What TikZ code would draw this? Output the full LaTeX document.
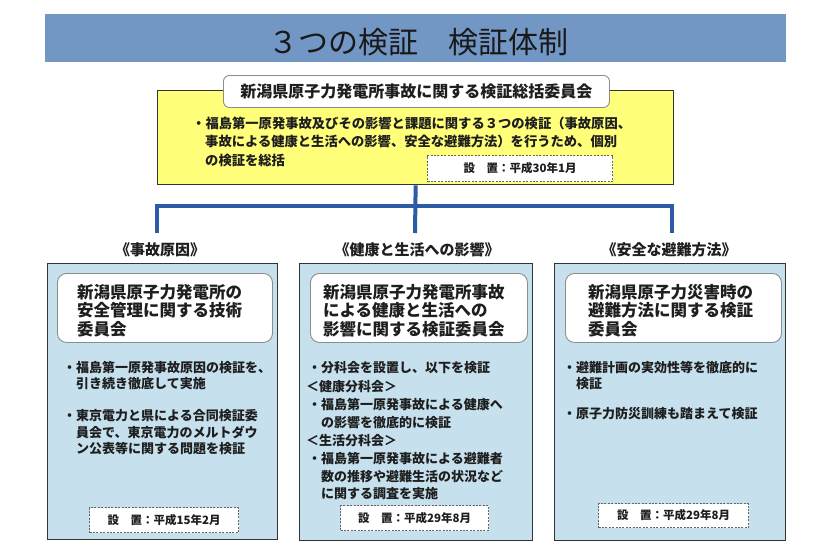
\documentclass[tikz,border=0pt]{standalone}
\usepackage{fontspec}
\newfontfamily\jp{Noto Sans CJK JP}
\definecolor{titlebar}{RGB}{114,151,196}
\definecolor{yel}{RGB}{255,255,122}
\definecolor{lblue}{RGB}{198,225,237}
\definecolor{conncol}{RGB}{44,92,166}
\definecolor{txtcol}{RGB}{30,30,30}
\tikzset{
  frame/.style={draw=black!80, line width=1.3pt, anchor=north west, inner sep=0pt},
  wbox/.style={draw=black!45, line width=0.9pt, fill=white, rounded corners=9pt, anchor=north west, inner sep=0pt},
  dbox/.style={draw=black!60, line width=1.1pt, dash pattern=on 2pt off 1.4pt, fill=white, anchor=north west, inner sep=0pt, text=txtcol, font=\jp\bfseries\fontsize{11.5pt}{13pt}\selectfont},
  conn/.style={draw=conncol, line width=4pt},
  ln/.style={anchor=base west, inner sep=0pt, text=txtcol, font=\jp\bfseries\fontsize{13pt}{15pt}\selectfont},
  yln/.style={ln, font=\jp\bfseries\fontsize{13.3pt}{15pt}\selectfont},
  head/.style={anchor=base west, inner sep=0pt, text=txtcol, font=\jp\bfseries\fontsize{16.5pt}{18pt}\selectfont},
  sect/.style={anchor=base, inner sep=0pt, text=txtcol, font=\jp\bfseries\fontsize{15pt}{17pt}\selectfont},
}
\begin{document}
\begin{tikzpicture}[x=1pt,y=-1pt]
\fill[white] (0,0) rectangle (813,554);
\useasboundingbox (0,0) rectangle (813,554);
% title bar
\node[anchor=north west, inner sep=0pt, fill=titlebar, minimum width=741pt, minimum height=48pt] (bar) at (45,14) {};
\node[anchor=base, inner sep=0pt, text=black!90, font=\jp\fontsize{30pt}{34pt}\selectfont] (title) at (418,53) {３つの検証　検証体制};
% top yellow box
\node[frame, fill=yel, minimum width=516pt, minimum height=94pt] (yb) at (157,90) {};
\node[wbox, rounded corners=6pt, minimum width=386pt, minimum height=32pt, text=txtcol, font=\jp\bfseries\fontsize{16pt}{18pt}\selectfont] (toplab) at (223,75) {新潟県原子力発電所事故に関する検証総括委員会};
\node[yln] (y1) at (192,128) {・福島第一原発事故及びその影響と課題に関する３つの検証（事故原因、};
\node[yln] (y2) at (205,146.5) {事故による健康と生活への影響、安全な避難方法）を行うため、個別};
\node[yln] (y3) at (205,165) {の検証を総括};
\node[dbox, minimum width=185pt, minimum height=26pt] (yd) at (427,155) {設　置：平成30年1月};
% connectors
\coordinate (jl) at (157,206);
\coordinate (jr) at (672,206);
\coordinate (el) at (157,233);
\coordinate (em) at (415,233);
\coordinate (er) at (672,233);
\draw[conn] (yb.south) -- (em);
\draw[conn] (el) -- (jl) -- (jr) -- (er);
% section labels
\node[sect] (s1) at (160,255.5) {《事故原因》};
\node[sect] (s2) at (417,255.5) {《健康と生活への影響》};
\node[sect] (s3) at (669,255.5) {《安全な避難方法》};
% lower boxes
\node[frame, fill=lblue, minimum width=230pt, minimum height=276pt] (b1) at (47,263) {};
\node[frame, fill=lblue, minimum width=233pt, minimum height=277pt] (b2) at (299,263) {};
\node[frame, fill=lblue, minimum width=231pt, minimum height=277pt] (b3) at (554,263) {};
\node[wbox, minimum width=215pt, minimum height=69pt] (h1) at (57,273) {};
\node[wbox, minimum width=217pt, minimum height=69pt] (h2) at (310,273) {};
\node[wbox, minimum width=216pt, minimum height=69pt] (h3) at (565,273) {};
% headings
\node[head] (h1a) at (77,298) {新潟県原子力発電所の};
\node[head] (h1b) at (77,316.5) {安全管理に関する技術};
\node[head] (h1c) at (77,335) {委員会};
\node[head] (h2a) at (323,298) {新潟県原子力発電所事故};
\node[head] (h2b) at (323,316.5) {による健康と生活への};
\node[head] (h2c) at (323,335) {影響に関する検証委員会};
\node[head] (h3a) at (588,298) {新潟県原子力災害時の};
\node[head] (h3b) at (588,316.5) {避難方法に関する検証};
\node[head] (h3c) at (588,335) {委員会};
% left box text
\node[ln] (l1) at (63,372) {・福島第一原発事故原因の検証を、};
\node[ln] (l2) at (76,388) {引き続き徹底して実施};
\node[ln] (l3) at (63,420) {・東京電力と県による合同検証委};
\node[ln] (l4) at (76,437) {員会で、東京電力のメルトダウ};
\node[ln] (l5) at (76,453) {ン公表等に関する問題を検証};
% middle box text
\node[ln] (m1) at (308,372) {・分科会を設置し、以下を検証};
\node[ln] (m2) at (306,391) {＜健康分科会＞};
\node[ln] (m3) at (308,409) {・福島第一原発事故による健康へ};
\node[ln] (m4) at (321,427) {の影響を徹底的に検証};
\node[ln] (m5) at (306,445) {＜生活分科会＞};
\node[ln] (m6) at (308,463) {・福島第一原発事故による避難者};
\node[ln] (m7) at (321,481) {数の推移や避難生活の状況など};
\node[ln] (m8) at (321,498) {に関する調査を実施};
% right box text
\node[ln] (r1) at (563,372) {・避難計画の実効性等を徹底的に};
\node[ln] (r2) at (576,388) {検証};
\node[ln] (r3) at (563,418) {・原子力防災訓練も踏まえて検証};
% dashed boxes
\node[dbox, minimum width=149pt, minimum height=25pt] (d1) at (89,507) {設　置：平成15年2月};
\node[dbox, minimum width=148pt, minimum height=25pt] (d2) at (340,505) {設　置：平成29年8月};
\node[dbox, minimum width=150pt, minimum height=24pt] (d3) at (598,503) {設　置：平成29年8月};
\end{tikzpicture}
\end{document}
